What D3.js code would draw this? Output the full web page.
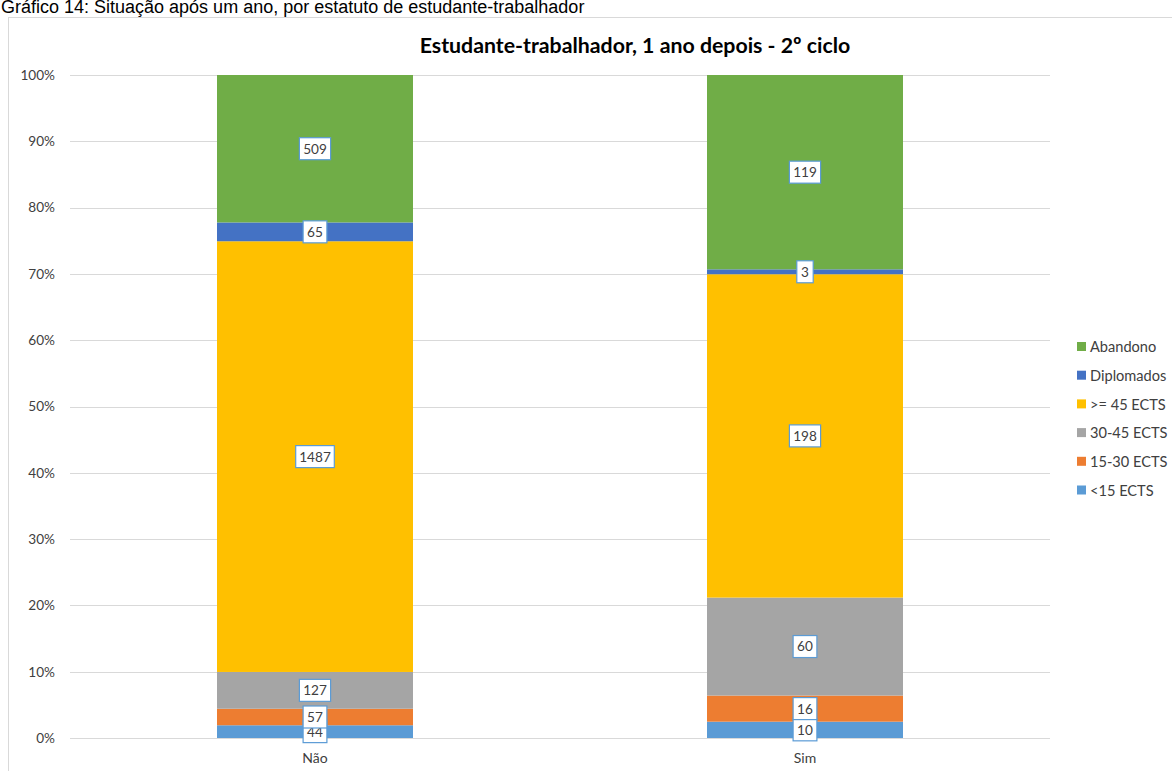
<!DOCTYPE html>
<html>
<head>
<meta charset="utf-8">
<script src="https://cdn.jsdelivr.net/npm/d3@7"></script>
<style>
  body { margin: 0; background: #fff; }
  #chart { width: 1172px; height: 771px; overflow: hidden; }
</style>
</head>
<body>
<div id="chart"></div>
<script>
// Data
const categories = ["Não", "Sim"];
const seriesNames = ["<15 ECTS", "15-30 ECTS", "30-45 ECTS", ">= 45 ECTS", "Diplomados", "Abandono"];
const seriesColors = ["#5B9BD5", "#ED7D31", "#A5A5A5", "#FFC000", "#4472C4", "#70AD47"];
const naoValues = [44, 57, 127, 1487, 65, 509];
const simValues = [10, 16, 60, 198, 3, 119];
const yTicks = [0, 0.1, 0.2, 0.3, 0.4, 0.5, 0.6, 0.7, 0.8, 0.9, 1];

(function () {
    const W = 1172, H = 771;
    const margin = { top: 75, left: 70, right: 122, bottom: 33 };
    const width = W - margin.left - margin.right;
    const height = H - margin.top - margin.bottom;

    const svg = d3.select("#chart").append("svg")
        .attr("width", W).attr("height", H)
        .style("font-family", "Lato, 'Open Sans', sans-serif");

    // caption above the chart box (top edge cuts it, as in the original)
    svg.append("text")
        .attr("x", 1).attr("y", 13)
        .style("font-family", "'Liberation Sans', Arial, sans-serif")
        .style("font-size", "18px").attr("fill", "#000")
        .text("Gráfico 14: Situação após um ano, por estatuto de estudante-trabalhador");

    // chart box
    svg.append("rect")
        .attr("x", 8.5).attr("y", 17.5).attr("width", 1170).attr("height", 770)
        .attr("fill", "#fff").attr("stroke", "#d9d9d9");

    svg.append("text")
        .attr("x", 635).attr("y", 53)
        .attr("text-anchor", "middle")
        .style("font-size", "21.3px").style("font-weight", "bold").attr("fill", "#000")
        .text("Estudante-trabalhador, 1 ano depois - 2º ciclo");

    const g = svg.append("g").attr("transform", `translate(${margin.left},${margin.top})`);

    const x = d3.scaleBand().domain(categories).range([0, width]).padding(0);
    const y = d3.scaleLinear().domain([0, 1]).range([height, 0]);
    const barW = x.bandwidth() * 0.4;

    // gridlines
    g.append("g").selectAll("line").data(yTicks).enter().append("line")
        .attr("x1", 0).attr("x2", width)
        .attr("y1", d => Math.round(y(d)) + 0.5).attr("y2", d => Math.round(y(d)) + 0.5)
        .attr("stroke", "#d9d9d9").attr("stroke-width", 1);

    // y axis labels
    const yAxis = g.append("g").call(d3.axisLeft(y).tickValues(yTicks).tickFormat(d3.format(".0%")).tickSize(0).tickPadding(15));
    yAxis.select(".domain").remove();
    yAxis.selectAll("text").style("font-size", "13.6px").style("font-family", "Lato, sans-serif").attr("fill", "#404040");

    // x axis labels
    const xAxis = g.append("g").attr("transform", `translate(0,${height})`)
        .call(d3.axisBottom(x).tickSize(0).tickPadding(15));
    xAxis.select(".domain").remove();
    xAxis.selectAll("text").style("font-size", "14px").style("font-family", "Lato, sans-serif").attr("fill", "#404040");

    // build table
    const rawByCat = { "Não": naoValues, "Sim": simValues };
    const table = categories.map(c => {
        const vals = rawByCat[c];
        const total = d3.sum(vals);
        const row = { cat: c };
        seriesNames.forEach((s, i) => { row[s] = vals[i] / total; row[s + "_n"] = vals[i]; });
        return row;
    });
    const stack = d3.stack().keys(seriesNames);
    const series = stack(table);
    const color = d3.scaleOrdinal().domain(seriesNames).range(seriesColors);

    const layers = g.selectAll(".layer").data(series).enter().append("g")
        .attr("class", "layer").attr("fill", d => color(d.key));
    layers.selectAll("rect").data(d => d).enter().append("rect")
        .attr("x", d => x(d.data.cat) + (x.bandwidth() - barW) / 2)
        .attr("y", d => y(d[1]))
        .attr("width", barW)
        .attr("height", d => y(d[0]) - y(d[1]));

    // data labels
    const labels = g.append("g");
    series.forEach(s => {
        s.forEach(d => {
            const n = d.data[s.key + "_n"];
            const cx = x(d.data.cat) + x.bandwidth() / 2;
            const cy = (y(d[0]) + y(d[1])) / 2;
            const txt = String(n);
            const bw = txt.length * 7.4 + 9;
            const lg = labels.append("g").attr("transform", `translate(${cx},${cy})`);
            lg.append("rect")
                .attr("x", -bw / 2).attr("y", -11).attr("width", bw).attr("height", 22)
                .attr("fill", "#fff").attr("stroke", "#5B9BD5").attr("stroke-width", 1.2);
            lg.append("text").attr("text-anchor", "middle").attr("dy", "0.36em")
                .style("font-size", "13.6px").attr("fill", "#404040").text(txt);
        });
    });

    // legend
    const legend = svg.append("g").attr("transform", "translate(1077,347)");
    const legendOrder = seriesNames.slice().reverse();
    const li = legend.selectAll("g").data(legendOrder).enter().append("g")
        .attr("transform", (d, i) => `translate(0,${i * 28.7})`);
    li.append("rect").attr("x", 0).attr("y", -5).attr("width", 9).attr("height", 9).attr("fill", d => color(d));
    li.append("text").attr("x", 13).attr("dy", "0.35em")
        .style("font-size", "14.6px").attr("fill", "#404040").text(d => d);
})();
</script>
</body>
</html>
